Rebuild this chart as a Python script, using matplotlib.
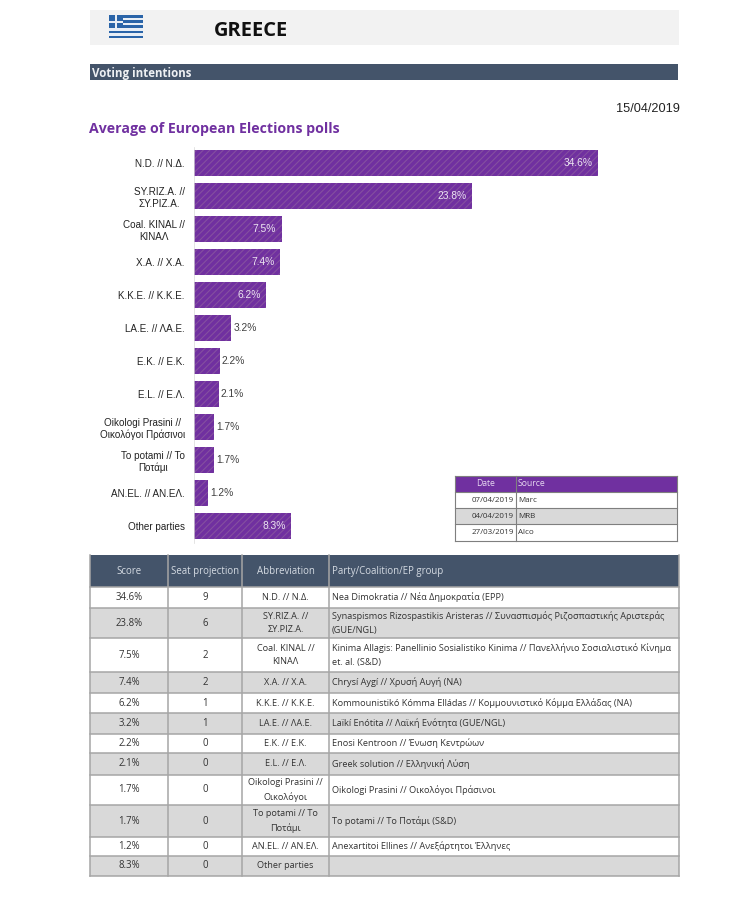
# -*- coding: utf-8 -*-
import matplotlib
matplotlib.use("Agg")
import matplotlib.pyplot as plt
from matplotlib.patches import Rectangle

W, H = 735, 909
BODY = ['Open Sans', 'DejaVu Sans']
LABEL = ['Liberation Sans', 'DejaVu Sans']
PURPLE = '#7030a0'
SLATE = '#44546a'
GREY = '#d9d9d9'
LINE = '#a6a6a6'

# chart data
parties = ['N.D. // N.Δ.', 'SY.RIZ.A. //\nΣΥ.ΡΙΖ.Α.', 'Coal. KINAL //\nΚΙΝΑΛ', 'X.A. // Χ.Α.',
           'K.K.E. // Κ.Κ.Ε.', 'LA.E. // ΛΑ.Ε.', 'E.K. // Ε.Κ.', 'E.L. // Ε.Λ.',
           'Oikologi Prasini //\nΟικολόγοι Πράσινοι', 'To potami // Το\nΠοτάμι',
           'AN.EL. // ΑΝ.ΕΛ.', 'Other parties']
scores = [34.6, 23.8, 7.5, 7.4, 6.2, 3.2, 2.2, 2.1, 1.7, 1.7, 1.2, 8.3]

# poll table
poll_header = ['Date', 'Source']
poll_dates = ['07/04/2019', '04/04/2019', '27/03/2019']
poll_sources = ['Marc', 'MRB', 'Alco']

# seat table
table_header = ['Score', 'Seat projection', 'Abbreviation', 'Party/Coalition/EP group']
seats = [9, 6, 2, 2, 1, 1, 0, 0, 0, 0, 0, 0]
abbrevs = ['N.D. // Ν.Δ.', 'SY.RIZ.A. //\nΣΥ.ΡΙΖ.Α.', 'Coal. KINAL //\nΚΙΝΑΛ', 'X.A. // Χ.Α.',
           'K.K.E. // Κ.Κ.Ε.', 'LA.E. // ΛΑ.Ε.', 'E.K. // Ε.Κ.', 'E.L. // Ε.Λ.',
           'Oikologi Prasini //\nΟικολόγοι', 'To potami // Το\nΠοτάμι',
           'AN.EL. // ΑΝ.ΕΛ.', 'Other parties']
full_names = ['Nea Dimokratia // Νέα Δημοκρατία (EPP)',
              'Synaspismos Rizospastikis Aristeras // Συνασπισμός Ριζοσπαστικής Αριστεράς\n(GUE/NGL)',
              'Kinima Allagis: Panellinio Sosialistiko Kinima // Πανελλήνιο Σοσιαλιστικό Κίνημα\net. al. (S&D)',
              'Chrysí Aygí // Χρυσή Αυγή (NA)',
              'Kommounistikó Kómma Elládas // Κομμουνιστικό Κόμμα Ελλάδας (NA)',
              'Laïkí Enótita // Λαϊκή Ενότητα (GUE/NGL)',
              'Enosi Kentroon // Ένωση Κεντρώων',
              'Greek solution // Ελληνική Λύση',
              'Oikologi Prasini // Οικολόγοι Πράσινοι',
              'To potami // Το Ποτάμι (S&D)',
              'Anexartitoi Ellines // Ανεξάρτητοι Έλληνες',
              '']

plt.rcParams['hatch.linewidth'] = 0.8
fig = plt.figure(figsize=(W / 100, H / 100), dpi=100, facecolor='white')

# page layer in pixels, y going down
page = fig.add_axes([0, 0, 1, 1])
page.set_xlim(0, W)
page.set_ylim(H, 0)
page.axis('off')


def box(x0, y0, x1, y1, color, **kw):
    page.add_patch(Rectangle((x0, y0), x1 - x0, y1 - y0, facecolor=color, edgecolor='none', **kw))


# title band and flag
box(90, 10, 679, 45, '#f2f2f2')
for i in range(9):
    box(109, 15 + i * 2.6, 143, 15 + (i + 1) * 2.6, '#2a64a8' if i % 2 == 0 else '#e8eef5')
box(109, 15, 123, 28, '#2a64a8')
box(115, 15, 117, 28, '#e8eef5')
box(109, 20.5, 123, 22.5, '#e8eef5')
page.text(214, 31, 'GREECE', fontsize=14.5, fontweight='bold', family=BODY, va='center', color='#111111')

box(90, 64, 678, 80, SLATE)
page.text(92, 73, 'Voting intentions', fontsize=8.3, fontweight='bold', family=BODY, va='center', color='#eef0f3')
page.text(680, 109, '15/04/2019', fontsize=9.2, family=LABEL, ha='right', va='center', color='#222222')
page.text(89, 128.5, 'Average of European Elections polls', fontsize=10.2, fontweight='bold',
          family=BODY, va='center', color=PURPLE)

# bars
ax = fig.add_axes([194 / W, 1 - 542.5 / H, (680 - 194) / W, 396 / H])
ax.patch.set_alpha(0)
pos = list(range(len(parties)))
ax.barh(pos, scores, height=0.78, color=PURPLE, edgecolor='#84509f', hatch='/////', linewidth=0)
ax.set_xlim(0, 41.6)
ax.set_ylim(len(parties) - 0.5, -0.5)
ax.xaxis.set_visible(False)
ax.set_yticks(pos)
ax.set_yticklabels(parties, family=LABEL, fontsize=7.1, color='#222222', ha='right', multialignment='center',
                   linespacing=1.2)
ax.tick_params(axis='y', length=0, pad=6.5)
for s in ['top', 'right', 'bottom']:
    ax.spines[s].set_visible(False)
ax.spines['left'].set_color('#d9d9d9')
ax.spines['left'].set_linewidth(0.5)
for p, v in zip(pos, scores):
    if v > 6:
        ax.annotate(f'{v}%', (v, p), xytext=(-4, 0), textcoords='offset points', ha='right', va='center',
                    family=LABEL, fontsize=7.4, color='#ece4f2')
    else:
        ax.annotate(f'{v}%', (v, p), xytext=(1.5, 0), textcoords='offset points', ha='left', va='center',
                    family=LABEL, fontsize=7.4, color='#404040')

# poll table
px = [455, 516, 677]
py = [476, 492, 508, 524, 541]
box(px[0], py[0], px[2], py[1], PURPLE)
box(px[0], py[2], px[2], py[3], GREY)
for y in py:
    page.plot([px[0], px[2]], [y, y], color='#7f7f7f', lw=0.8)
for x in px:
    page.plot([x, x], [py[0], py[-1]], color='#7f7f7f', lw=0.8)
page.text(486, 484, poll_header[0], fontsize=6.2, family=BODY, ha='center', va='center', color='#e6d8f0')
page.text(518, 484, poll_header[1], fontsize=6.2, family=BODY, va='center', color='#e6d8f0')
for i in range(len(poll_dates)):
    ym = (py[i + 1] + py[i + 2]) / 2
    page.text(514, ym, poll_dates[i], fontsize=5.8, family=BODY, ha='right', va='center', color='#333333')
    page.text(518, ym, poll_sources[i], fontsize=5.8, family=BODY, va='center', color='#333333')

# seat table
cols = [90, 168, 242, 329, 679]
rows = [555, 587, 608, 638, 672, 693, 713, 734, 753, 775, 805, 837, 856, 876]
box(cols[0], rows[0], cols[-1], rows[1], SLATE)
for i in range(len(scores)):
    if i % 2 == 1:
        box(cols[0], rows[i + 1], cols[-1], rows[i + 2], GREY)
for y in rows[1:]:
    page.plot([cols[0], cols[-1]], [y, y], color=LINE, lw=1.1)
for x in cols:
    page.plot([x, x], [rows[0], rows[-1]], color=LINE, lw=1.1)
for j in range(3):
    page.text((cols[j] + cols[j + 1]) / 2, 571.5, table_header[j], fontsize=6.9, family=BODY,
              ha='center', va='center', color='#d5dbe3')
page.text(332, 571.5, table_header[3], fontsize=6.9, family=BODY, va='center', color='#d5dbe3')
for i in range(len(scores)):
    ym = (rows[i + 1] + rows[i + 2]) / 2
    page.text(129, ym, f'{scores[i]}%', fontsize=6.9, family=BODY, ha='center', va='center', color='#333333')
    page.text(205, ym, str(seats[i]), fontsize=6.9, family=BODY, ha='center', va='center', color='#333333')
    page.text(285.5, ym, abbrevs[i], fontsize=6.6, family=BODY, ha='center', va='center', color='#333333',
              linespacing=1.6)
    page.text(332, ym, full_names[i], fontsize=6.6, family=BODY, va='center', color='#333333', linespacing=1.6)

fig.savefig('out.png', dpi=100)
